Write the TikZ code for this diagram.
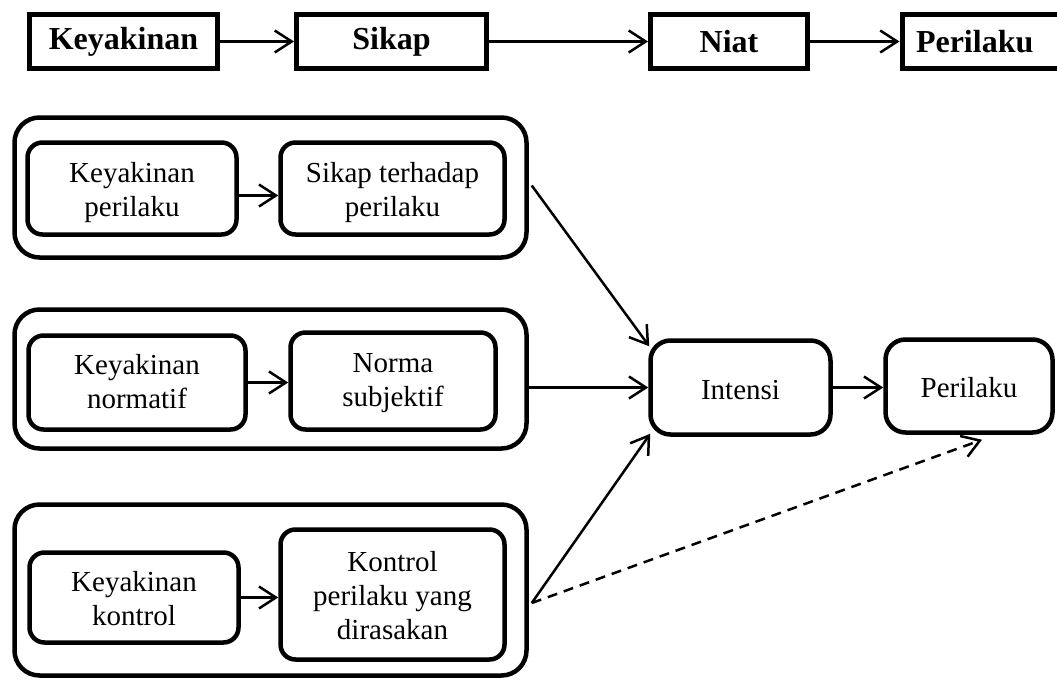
\documentclass[tikz,border=0pt]{standalone}
\usepackage{fontspec}
\setmainfont{Liberation Serif}
\usetikzlibrary{arrows.meta,calc}
\newcommand\lowtxt[2][4pt]{\raisebox{-#1}[\height][\depth]{\begin{tabular}{@{}c@{}}#2\end{tabular}}}
\begin{document}
\begin{tikzpicture}[x=1pt,y=-1pt,
  conn/.style={line width=2.5pt,-{Straight Barb[length=17pt,width=22pt,line width=2.5pt]}},
  dashconn/.style={conn,dash pattern=on 10pt off 7pt},
  topbox/.style={draw,line width=5pt,inner sep=0pt,minimum height=54pt,font=\fontsize{32}{36}\selectfont\bfseries},
  inbox/.style={draw,line width=4.5pt,rounded corners=15pt,inner sep=0pt,align=center,font=\fontsize{29}{34}\selectfont},
  grp/.style={draw,line width=4.5pt,rounded corners=25pt,inner sep=0pt}]
\useasboundingbox[fill=white] (0,0) rectangle (1057,680);

% top row
\node[topbox,minimum width=188pt] (tK) at (123.5,41.5) {Keyakinan};
\node[topbox,minimum width=190pt] (tS) at (391.5,41.5) {Sikap};
\node[topbox,minimum width=157pt] (tN) at (729,41.5) {Niat};
\node[topbox,text width=146pt,inner xsep=14pt,align=left,anchor=west] (tP) at (899.5,41.5) {Perilaku};
\draw[conn] (tK.east) -- (tS.west);
\draw[conn] (tS.east) -- (tN.west);
\draw[conn] (tN.east) -- (tP.west);

% groups
\node[grp,minimum width=512pt,minimum height=140pt] (G1) at (270.5,187.5) {};
\node[grp,minimum width=512pt,minimum height=139pt] (G2) at (270.5,379) {};
\node[grp,minimum width=512pt,minimum height=171pt] (G3) at (270.5,590) {};

% group 1
\node[inbox,minimum width=209pt,minimum height=92pt] (KP) at (132,188.5) {\lowtxt{Keyakinan\\perilaku}};
\node[inbox,minimum width=224pt,minimum height=92pt] (STP) at (392.5,188.5) {\lowtxt{Sikap terhadap\\perilaku}};
\draw[conn] ([yshift=-7pt]KP.east) -- ([yshift=-7pt]KP.east -| STP.west);

% group 2
\node[inbox,minimum width=217pt,minimum height=94pt] (KN) at (137,382.5) {\lowtxt[2pt]{Keyakinan\\normatif}};
\node[inbox,minimum width=205pt,minimum height=97pt] (NS) at (393,381) {\lowtxt[2pt]{Norma\\subjektif}};
\draw[conn] (KN.east) -- (KN.east -| NS.west);

% group 3
\node[inbox,minimum width=209pt,minimum height=90pt] (KK) at (134,597.5) {\lowtxt{Keyakinan\\kontrol}};
\node[inbox,minimum width=224pt,minimum height=130pt] (KPD) at (392.5,594.5) {\lowtxt{Kontrol\\perilaku yang\\dirasakan}};
\draw[conn] (KK.east) -- (KK.east -| KPD.west);

% right side
\node[inbox,rounded corners=20pt,minimum width=180pt,minimum height=94pt] (I) at (740.5,387.5) {\lowtxt[5pt]{Intensi}};
\node[inbox,rounded corners=20pt,minimum width=167pt,minimum height=93pt] (P) at (969,386) {\lowtxt[5pt]{Perilaku}};
\draw[conn] (I.east) -- (I.east -| P.west);

\coordinate (S1) at ($(G1.east)+(3,-2)$);
\coordinate (S3) at ($(G3.east)+(3,13)$);
\draw[conn] (S1) -- ($(I.north west)+(1,8)$);
\draw[conn] (G2.east |- I.west) -- (I.west);
\draw[conn] (S3) -- ($(I.south west)+(2,-3)$);
\draw[dashconn] (S3) -- ($(P.south)+(13,5)$);
\end{tikzpicture}
\end{document}
